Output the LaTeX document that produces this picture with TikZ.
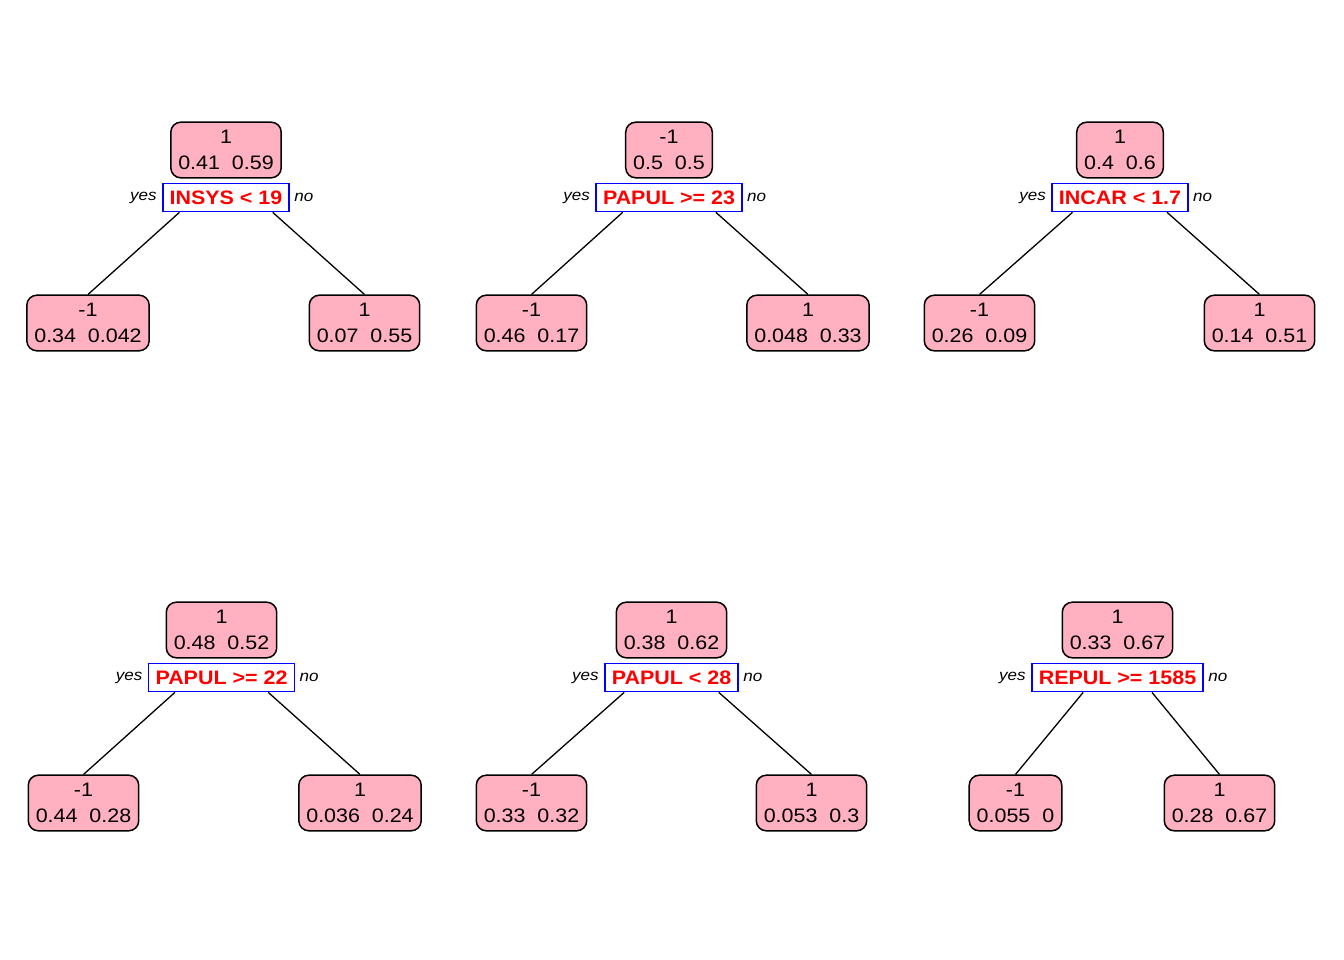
\documentclass[tikz,border=0pt]{standalone}
\usepackage{fontspec}
\setmainfont{Liberation Sans}[FakeStretch=1.1]
\usetikzlibrary{positioning, backgrounds}
\definecolor{nodepink}{RGB}{255,176,193}
\newcommand{\pgap}{~~}

\begin{document}
\begin{tikzpicture}[
    x=1pt, y=-1pt,
    leaf/.style={rectangle, rounded corners=10pt, draw, line width=1.5pt, fill=nodepink, align=center, inner xsep=7.5pt, inner ysep=8pt, font=\fontsize{19.5}{26}\selectfont},
    split/.style={rectangle, draw=blue, line width=1.8pt, fill=white, text=red, inner xsep=7pt, inner ysep=7pt, text height=14pt, text depth=0pt, font=\fontsize{19.5}{24}\selectfont\bfseries},
    yn/.style={inner sep=0pt, font=\fontsize{15.5}{18}\selectfont\itshape},
    edge/.style={line width=1.3pt}
]
    \useasboundingbox (0,0) rectangle (1344,960);

    % Tree 1
    \node[leaf] (r1) at (226,150) {1\\0.41\pgap0.59};
    \node[split, below=4pt of r1] (c1) {INSYS < 19};
    \node[yn, left=5pt of c1] (y1) {yes};
    \node[yn, right=4pt of c1] (n1) {no};
    \node[leaf] (l1) at (88,323) {-1\\0.34\pgap0.042};
    \node[leaf] (k1) at (364.5,323) {1\\0.07\pgap0.55};

    % Tree 2
    \node[leaf] (r2) at (669,150) {-1\\0.5\pgap0.5};
    \node[split, below=4pt of r2] (c2) {PAPUL >= 23};
    \node[yn, left=5pt of c2] (y2) {yes};
    \node[yn, right=4pt of c2] (n2) {no};
    \node[leaf] (l2) at (531.5,323) {-1\\0.46\pgap0.17};
    \node[leaf] (k2) at (808,323) {1\\0.048\pgap0.33};

    % Tree 3
    \node[leaf] (r3) at (1120,150) {1\\0.4\pgap0.6};
    \node[split, below=4pt of r3] (c3) {INCAR < 1.7};
    \node[yn, left=5pt of c3] (y3) {yes};
    \node[yn, right=4pt of c3] (n3) {no};
    \node[leaf] (l3) at (979.5,323) {-1\\0.26\pgap0.09};
    \node[leaf] (k3) at (1259.5,323) {1\\0.14\pgap0.51};

    % Tree 4
    \node[leaf] (r4) at (221.5,630) {1\\0.48\pgap0.52};
    \node[split, below=4pt of r4] (c4) {PAPUL >= 22};
    \node[yn, left=5pt of c4] (y4) {yes};
    \node[yn, right=4pt of c4] (n4) {no};
    \node[leaf] (l4) at (83.5,803) {-1\\0.44\pgap0.28};
    \node[leaf] (k4) at (360,803) {1\\0.036\pgap0.24};

    % Tree 5
    \node[leaf] (r5) at (671.5,630) {1\\0.38\pgap0.62};
    \node[split, below=4pt of r5] (c5) {PAPUL < 28};
    \node[yn, left=5pt of c5] (y5) {yes};
    \node[yn, right=4pt of c5] (n5) {no};
    \node[leaf] (l5) at (531.5,803) {-1\\0.33\pgap0.32};
    \node[leaf] (k5) at (811.5,803) {1\\0.053\pgap0.3};

    % Tree 6
    \node[leaf] (r6) at (1117.5,630) {1\\0.33\pgap0.67};
    \node[split, below=4pt of r6] (c6) {REPUL >= 1585};
    \node[yn, left=5pt of c6] (y6) {yes};
    \node[yn, right=4pt of c6] (n6) {no};
    \node[leaf] (l6) at (1015.5,803) {-1\\0.055\pgap0};
    \node[leaf] (k6) at (1219.5,803) {1\\0.28\pgap0.67};

    % Branches, from the bottom of each split box
    \foreach \t in {1,...,6} {
        \coordinate (s\t) at ([yshift=8pt]r\t.south);
        \draw[edge] (intersection of c\t.south west--c\t.south east and s\t--l\t.north) -- (l\t.north);
        \draw[edge] (intersection of c\t.south west--c\t.south east and s\t--k\t.north) -- (k\t.north);
    }
\end{tikzpicture}
\end{document}
